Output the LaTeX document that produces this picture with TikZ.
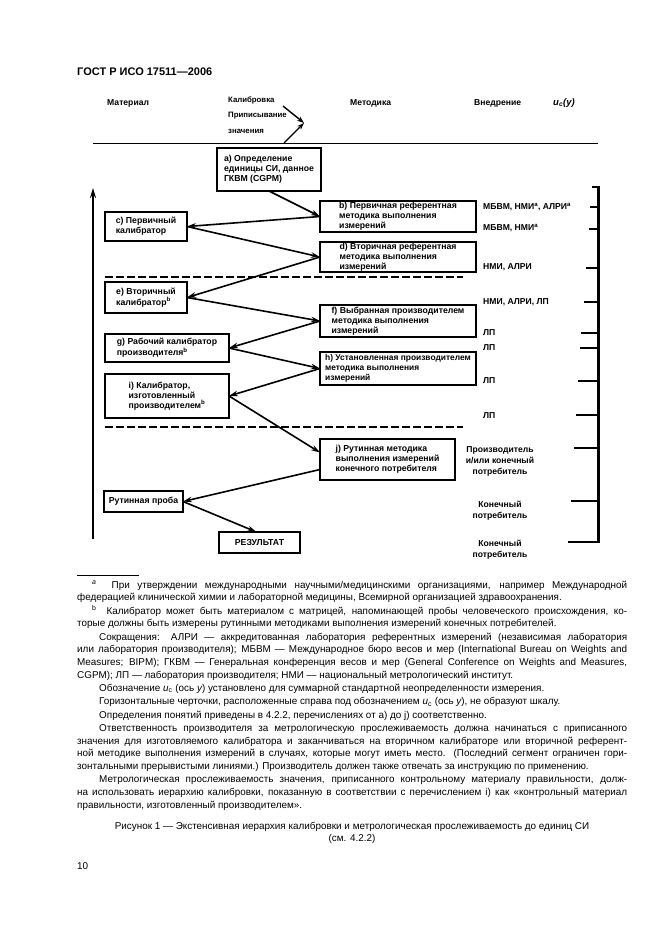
\documentclass[tikz,border=0pt]{standalone}
\usepackage{fontspec}
\setmainfont{Liberation Sans}
\usetikzlibrary{arrows.meta,calc}
\begin{document}
\begin{tikzpicture}[x=1pt,y=-1pt,
  box/.style={draw, line width=1.8pt, align=left, font=\bfseries\fontsize{8.7}{9.9}\selectfont, inner sep=0pt, outer sep=0pt, anchor=north west},
  lab/.style={font=\bfseries\fontsize{8.6}{11}\selectfont, inner sep=0pt},
  hlab/.style={font=\bfseries\fontsize{7.8}{11}\selectfont, inner sep=0pt, anchor=west},
  arr/.style={line width=1.6pt, -{Stealth[length=9pt,width=5.5pt]}},
  dashline/.style={line width=1.6pt, dash pattern=on 8pt off 3pt},
  tickline/.style={line width=1.6pt}]

\fill[white] (0,0) rectangle (661,936);
\path[use as bounding box] (0,0) rectangle (661,936);

% title
\node[font=\bfseries\fontsize{11}{13}\selectfont, anchor=west, inner sep=0pt] (title) at (77,72) {ГОСТ Р ИСО 17511—2006};

% header row
\node[lab, anchor=west] (mat) at (107,103) {Материал};
\node[hlab] (kal) at (228,100) {Калибровка};
\node[hlab] (prip) at (228,116) {Приписывание};
\node[hlab] (zn) at (228,131) {значения};
\node[lab, anchor=west] (met) at (350,103) {Методика};
\node[lab, anchor=west] (vn) at (474,103) {Внедрение};
\node[lab, anchor=west, font=\bfseries\itshape\fontsize{9.5}{11}\selectfont] (uc) at (553,103) {u\textsubscript{c}(y)};
\coordinate (k1) at (283,106);
\coordinate (k2) at (284,143);
\coordinate (ktip) at (304,123);
\draw[line width=1.4pt, -{Stealth[length=7pt,width=5pt]}] (k1) -- (ktip);
\draw[line width=1.4pt, -{Stealth[length=7pt,width=5pt]}] (k2) -- (ktip);
\draw[line width=1.6pt] (93,143.5) -- (598,143.5);

% boxes
\node[box, minimum width=104, minimum height=43] (a) at (217,148) {a) Определение\\единицы СИ, данное\\ГКВМ (CGPM)};
\node[box, minimum width=156, minimum height=31] (b) at (320,201) {b) Первичная референтная\\методика выполнения\\измерений};
\node[box, minimum width=156, minimum height=30] (d) at (320,242) {d) Вторичная референтная\\методика выполнения\\измерений};
\node[box, minimum width=82, minimum height=29] (c) at (105,212) {c) Первичный\\калибратор};
\node[box, minimum width=82, minimum height=31] (e) at (105,282) {e) Вторичный\\калибратор\textsuperscript{b}};
\node[box, minimum width=156, minimum height=32] (f) at (320,305) {f) Выбранная производителем\\методика выполнения\\измерений};
\node[box, minimum width=124, minimum height=28] (g) at (105,334) {g) Рабочий калибратор\\производителя\textsuperscript{b}};
\node[box, minimum width=156, minimum height=33, font=\bfseries\fontsize{8.4}{9.9}\selectfont] (h) at (320,352) {h) Установленная производителем\\методика выполнения\\измерений};
\node[box, minimum width=124, minimum height=44] (i) at (105,374) {i) Калибратор,\\изготовленный\\производителем\textsuperscript{b}};
\node[box, minimum width=135, minimum height=41] (j) at (320,439) {j) Рутинная методика\\выполнения измерений\\конечного потребителя};
\node[box, minimum width=79, minimum height=21] (proba) at (104,491) {Рутинная проба};
\node[box, minimum width=81, minimum height=21] (result) at (219,532) {РЕЗУЛЬТАТ};

% connectors
\draw[arr] (a.south) -- (b.west);
\draw[arr] (b.west) -- (c.east);
\draw[arr] (c.east) -- (d.west);
\draw[arr] (d.west) -- (e.east);
\draw[arr] (e.east) -- (f.west);
\draw[arr] (f.west) -- (g.east);
\draw[arr] (g.east) -- (h.west);
\draw[arr] (h.west) -- (i.east);
\draw[arr] (i.east) -- ([yshift=7pt]j.west);
\draw[arr] ([yshift=-10pt]j.west) -- (proba.east);
\draw[arr] (proba.east) -- ([xshift=-3pt]result.north);

% dashed separators
\draw[dashline] (105,277) -- (463,277);
\draw[dashline] (105,427) -- (463,427);

% left vertical arrow
\draw[line width=2.4pt, -{Stealth[length=10pt,width=6pt]}] (93,539) -- (93,188);

% right column labels
\node[lab, anchor=west] (v1) at (483,207) {МБВМ, НМИ\textsuperscript{a}, АЛРИ\textsuperscript{a}};
\node[lab, anchor=west] (v2) at (483,228) {МБВМ, НМИ\textsuperscript{a}};
\node[lab, anchor=west] (v3) at (483,267) {НМИ, АЛРИ};
\node[lab, anchor=west] (v4) at (483,302) {НМИ, АЛРИ, ЛП};
\node[lab, anchor=west] (v5) at (483,333) {ЛП};
\node[lab, anchor=west] (v6) at (483,348) {ЛП};
\node[lab, anchor=west] (v7) at (483,381) {ЛП};
\node[lab, anchor=west] (v8) at (483,416) {ЛП};
\node[lab, align=center] (v9) at (500,461) {Производитель\\и/или конечный\\потребитель};
\node[lab, align=center] (v10) at (500,511) {Конечный\\потребитель};
\node[lab, align=center] (v11) at (500,550) {Конечный\\потребитель};

% right axis
\draw[line width=3pt] (598,186) -- (598,543);
\draw[tickline] (592,187) -- (598,187);
\draw[tickline] (590,207) -- (598,207);
\draw[tickline] (589,229) -- (598,229);
\draw[tickline] (586,268) -- (598,268);
\draw[tickline] (584,302) -- (598,302);
\draw[tickline] (581,333) -- (598,333);
\draw[tickline] (580,348) -- (598,348);
\draw[tickline] (578,381) -- (598,381);
\draw[tickline] (576,415) -- (598,415);
\draw[tickline] (574,448) -- (598,448);
\draw[tickline] (571,501) -- (598,501);
\draw[tickline] (568,542) -- (598,542);

% footnotes
\draw[line width=0.8pt] (77,575) -- (139,575);
\node[anchor=base west, inner sep=0pt] (notes) at (77,588) {\parbox[t]{550pt}{\fontsize{9.9}{12.7}\selectfont\tolerance=9999 \hyphenpenalty=10000 \hbadness=10000 \hfuzz=20pt \parindent=0pt \parskip=0.6pt
\hspace*{15pt}\textsuperscript{\itshape a}\ \ При утверждении международными научными/медицинскими организациями, например Международной\linebreak федерацией клинической химии и лабораторной медицины, Всемирной организацией здравоохранения.\par
\hspace*{15pt}\textsuperscript{b}\ \ Калибратор может быть материалом с матрицей, напоминающей пробы человеческого происхождения, ко-\linebreak торые должны быть измерены рутинными методиками выполнения измерений конечных потребителей.\par
\hspace*{22pt}Сокращения: АЛРИ — аккредитованная лаборатория референтных измерений (независимая лаборатория\linebreak или лаборатория производителя); МБВМ — Международное бюро весов и мер (International Bureau on Weights and\linebreak Measures; BIPM); ГКВМ — Генеральная конференция весов и мер (General Conference on Weights and Measures,\linebreak CGPM); ЛП — лаборатория производителя; НМИ — национальный метрологический институт.\par
\hspace*{22pt}Обозначение {\itshape u}\textsubscript{c} (ось {\itshape y}) установлено для суммарной стандартной неопределенности измерения.\par
\hspace*{22pt}Горизонтальные черточки, расположенные справа под обозначением {\itshape u}\textsubscript{c} (ось {\itshape y}), не образуют шкалу.\par
\hspace*{22pt}Определения понятий приведены в 4.2.2, перечислениях от a) до j) соответственно.\par
\hspace*{22pt}Ответственность производителя за метрологическую прослеживаемость должна начинаться с приписанного\linebreak значения для изготовляемого калибратора и заканчиваться на вторичном калибраторе или вторичной референт-\linebreak ной методике выполнения измерений в случаях, которые могут иметь место. (Последний сегмент ограничен гори-\linebreak зонтальными прерывистыми линиями.) Производитель должен также отвечать за инструкцию по применению.\par
\hspace*{22pt}Метрологическая прослеживаемость значения, приписанного контрольному материалу правильности, долж-\linebreak на использовать иерархию калибровки, показанную в соответствии с перечислением i) как «контрольный материал\linebreak правильности, изготовленный производителем».\par}};

% caption
\node[anchor=base, inner sep=0pt, font=\fontsize{9.9}{12}\selectfont] (cap1) at (352,829) {Рисунок 1 — Экстенсивная иерархия калибровки и метрологическая прослеживаемость до единиц СИ};
\node[anchor=base, inner sep=0pt, font=\fontsize{9.9}{12}\selectfont] (cap2) at (352,841) {(см. 4.2.2)};
\node[anchor=base west, inner sep=0pt, font=\fontsize{9.9}{12}\selectfont] (pg) at (77,869) {10};
\end{tikzpicture}
\end{document}
